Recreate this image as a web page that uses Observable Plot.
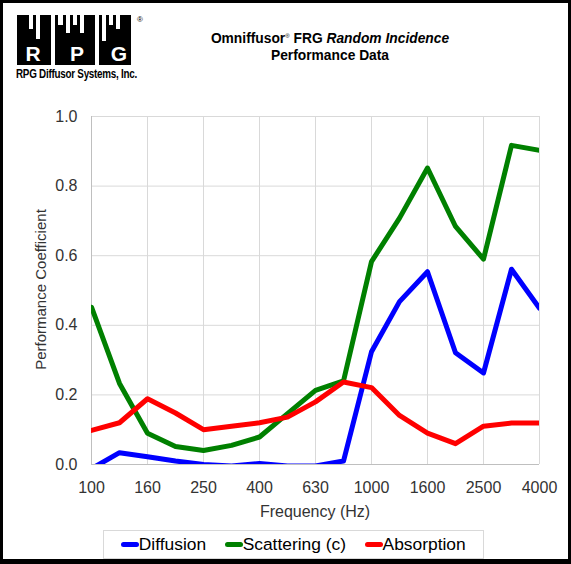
<!DOCTYPE html>
<html>
<head>
<meta charset="utf-8">
<script src="https://cdn.jsdelivr.net/npm/d3@7"></script>
<script src="https://cdn.jsdelivr.net/npm/@observablehq/plot@0.6"></script>
<style>
  html, body { margin: 0; padding: 0; background: #fff; }
  #page { position: relative; width: 571px; height: 564px; overflow: hidden; font-family: "Liberation Sans", Arial, sans-serif; background:#fff; }
  #frame { position: absolute; left: 0; top: 0; width: 571px; height: 564px; box-sizing: border-box; border: 3px solid #000; border-bottom-width: 5px; pointer-events: none; z-index: 5; }
  #chart { position: absolute; left: 0; top: 0; }
  .abs { position: absolute; white-space: nowrap; }
  #title { left: 180px; width: 300px; top: 28px; text-align: center; font-weight: bold; font-size: 13.8px; line-height: 17px; color: #000; }
  #title sup { font-size: 6px; vertical-align: 5px; font-weight: normal; }
  #xlabel { left: 215px; width: 200px; top: 503px; text-align: center; font-size: 16px; color: #333; }
  #ylabel { left: -60px; width: 200px; top: 281px; text-align: center; font-size: 15px; color: #333; transform: rotate(-90deg); }
  #legend { left: 103px; top: 530px; width: 379px; height: 27px; border: 1px solid #d9d9d9; display: flex; align-items: center; justify-content: center; font-size: 17.4px; color: #000; }
  .item { display: flex; align-items: center; margin: 0 9.5px; }
  .sw { display: inline-block; width: 17.5px; height: 5px; border-radius: 2.5px; }
  #logotext { left: 16px; top: 67px; font-family: "Liberation Sans", Arial, sans-serif; font-weight: bold; font-size: 12px; color: #000; letter-spacing: -0.3px; transform: scaleX(0.82); transform-origin: 0 0; }
</style>
</head>
<body>
<div id="page">
  <svg id="logo" class="abs" style="left:0;top:0" width="160" height="70" viewBox="0 0 160 70"></svg>
  <div id="logotext" class="abs">RPG Diffusor Systems, Inc.</div>
  <div id="title" class="abs">Omniffusor<sup>®</sup> FRG <i>Random Incidence</i><br>Performance Data</div>
  <div id="chart"></div>
  <div id="xlabel" class="abs">Frequency (Hz)</div>
  <div id="ylabel" class="abs">Performance Coefficient</div>
  <div id="legend" class="abs">
    <span class="item"><span class="sw" style="background:#0000ff"></span>Diffusion</span>
    <span class="item"><span class="sw" style="background:#008000"></span>Scattering (c)</span>
    <span class="item"><span class="sw" style="background:#ff0000"></span>Absorption</span>
  </div>
  <div id="frame"></div>
</div>
<script>
// ---- data ----
const frequencies = ["100","125","160","200","250","315","400","500","630","800","1000","1250","1600","2000","2500","3150","4000"];
const tickLabels = ["100","160","250","400","630","1000","1600","2500","4000"];
const yTicks = [0, 0.2, 0.4, 0.6, 0.8, 1.0];
const diffusion  = [-0.012, 0.034, 0.022, 0.010, 0.000, -0.004, 0.003, -0.004, -0.004, 0.010, 0.324, 0.468, 0.554, 0.321, 0.263, 0.561, 0.449];
const scattering = [0.452, 0.233, 0.090, 0.052, 0.040, 0.055, 0.079, 0.146, 0.213, 0.240, 0.583, 0.708, 0.852, 0.684, 0.590, 0.917, 0.903];
const absorption = [0.098, 0.120, 0.189, 0.148, 0.100, 0.110, 0.120, 0.136, 0.180, 0.237, 0.221, 0.141, 0.090, 0.060, 0.110, 0.119, 0.119];
const seriesNames = ["Diffusion", "Scattering (c)", "Absorption"];
const seriesColors = ["#0000ff", "#008000", "#ff0000"];

const rows = [];
[diffusion, scattering, absorption].forEach((vals, si) => {
  vals.forEach((v, i) => rows.push({freq: frequencies[i], value: v, series: seriesNames[si]}));
});

const chart = Plot.plot({
  width: 571,
  height: 564,
  marginLeft: 91,
  marginRight: 32,
  marginTop: 116,
  marginBottom: 100,
  style: {fontFamily: "Liberation Sans, Arial, sans-serif", background: "transparent"},
  x: {type: "point", domain: frequencies, padding: 0},
  y: {domain: [0, 1]},
  color: {domain: seriesNames, range: seriesColors},
  marks: [
    Plot.gridX(tickLabels, {stroke: "#d9d9d9", strokeOpacity: 1}),
    Plot.gridY(yTicks, {stroke: "#d9d9d9", strokeOpacity: 1}),
    Plot.ruleX([frequencies[0]], {stroke: "#bfbfbf"}),
    Plot.ruleY([0], {stroke: "#bfbfbf"}),
    Plot.axisX(tickLabels, {tickSize: 0, tickPadding: 17, fontSize: 16, fill: "#333", label: null}),
    Plot.axisY(yTicks, {tickSize: 0, tickPadding: 14, fontSize: 16, fill: "#333", tickFormat: d3.format(".1f"), label: null}),
    Plot.line(rows, {x: "freq", y: "value", z: "series", stroke: "series", strokeWidth: 5, strokeLinejoin: "round", clip: true})
  ]
});
document.getElementById("chart").appendChild(chart);

// ---- decorative logo ----
const logo = d3.select("#logo");
logo.append("rect").attr("x", 17).attr("y", 15).attr("width", 114).attr("height", 50).attr("fill", "#000");
const wells = [[29,4,14],[36,4,24],[51,4,50],[58,5,10],[66,4,18],[73,4,10],[80,4,18],[95,4,50],[102,4,26],[109,4,10],[116,4,14]];
wells.forEach(([x,w,h]) => logo.append("rect").attr("x", x).attr("y", 15).attr("width", w).attr("height", h).attr("fill", "#fff"));
[["R",33],["P",77],["G",119]].forEach(([t,x]) => logo.append("text").attr("x", x).attr("y", 61).attr("text-anchor","middle")
  .attr("font-family","Liberation Sans, Arial, sans-serif").attr("font-weight","bold").attr("font-size", 21).attr("fill","#fff").text(t));
logo.append("text").attr("x", 140).attr("y", 22).attr("text-anchor","middle").attr("font-size", 8).attr("font-family","Liberation Sans, Arial").text("®");
</script>
</body>
</html>
